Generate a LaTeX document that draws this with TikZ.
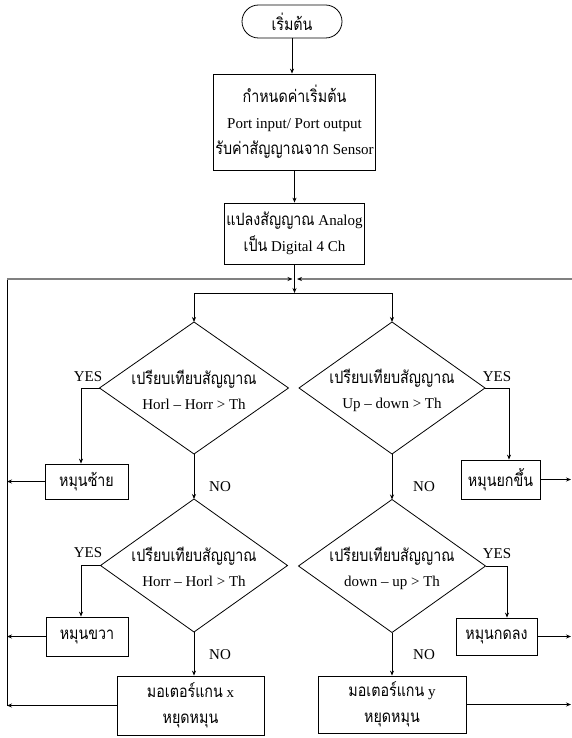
\documentclass[tikz,border=0pt]{standalone}
\usepackage{fontspec}
\setmainfont{Liberation Serif}
\newfontfamily\thfont[Script=Thai,FakeStretch=0.84]{Loma}
\usetikzlibrary{shapes.geometric,arrows.meta}
\newcommand\thai[1]{{\thfont\fontsize{17}{26}\selectfont #1}}
\begin{document}
\begin{tikzpicture}[x=1pt,y=-1pt,
  line/.style={draw, line width=0.8pt},
  arr/.style={draw, line width=0.8pt, -{Stealth[length=5pt,width=4pt]}},
  garr/.style={draw, line width=1.6pt, gray, -{Stealth[length=5pt,width=4pt,black]}},
  box/.style={draw, line width=0.8pt, align=center, inner sep=2pt, font=\fontsize{15}{26}\selectfont},
  dia/.style={draw, diamond, line width=0.8pt, inner sep=0pt, outer sep=0pt},
  lbl/.style={align=center, inner sep=1pt, font=\fontsize{15}{25}\selectfont}]
\useasboundingbox (0,0) rectangle (572,738);
% top nodes
\node[box, rounded corners=16.5pt, minimum width=100pt, minimum height=33pt] (start) at (292,21.5) {\thai{เริ่มต้น}};
\node[box, minimum width=159pt, minimum height=96pt] (init) at (294.5,122) {\thai{กำหนดค่าเริ่มต้น}\\Port input/ Port output\\\thai{รับค่าสัญญาณจาก} Sensor};
\node[box, minimum width=137pt, minimum height=61pt] (conv) at (294.5,233.5) {\thai{แปลงสัญญาณ} Analog\\\thai{เป็น} Digital 4 Ch};
% diamonds
\node[dia, minimum width=189pt, minimum height=132pt] (d1) at (194,388) {};
\node[dia, minimum width=186pt, minimum height=132pt] (d2) at (392,388) {};
\node[dia, minimum width=187pt, minimum height=133pt] (d3) at (194,565.5) {};
\node[dia, minimum width=187pt, minimum height=133pt] (d4) at (392,566) {};
\node[lbl] (t1) at (194,390) {\thai{เปรียบเทียบสัญญาณ}\\Horl -- Horr > Th};
\node[lbl] (t2) at (392,390) {\thai{เปรียบเทียบสัญญาณ}\\Up -- down > Th};
\node[lbl] (t3) at (194,567) {\thai{เปรียบเทียบสัญญาณ}\\Horr -- Horl > Th};
\node[lbl] (t4) at (392,568) {\thai{เปรียบเทียบสัญญาณ}\\down -- up > Th};
% action boxes
\node[box, minimum width=83pt, minimum height=35pt] (bl1) at (86.5,481.5) {\thai{หมุนซ้าย}};
\node[box, minimum width=82pt, minimum height=39pt] (bl2) at (87,636.5) {\thai{หมุนขวา}};
\node[box, minimum width=147pt, minimum height=59pt] (bx) at (190.5,705.5) {\thai{มอเตอร์แกน} x\\\thai{หยุดหมุน}};
\node[box, minimum width=79pt, minimum height=39pt] (br1) at (500.5,479.5) {\thai{หมุนยกขึ้น}};
\node[box, minimum width=81pt, minimum height=37pt] (br2) at (496.5,636.5) {\thai{หมุนกดลง}};
\node[box, minimum width=148pt, minimum height=57pt] (by) at (392,704.5) {\thai{มอเตอร์แกน} y\\\thai{หยุดหมุน}};
% labels
\node[lbl] (yes1) at (88,377) {YES};
\node[lbl] (yes2) at (88,553) {YES};
\node[lbl] (yes3) at (497,377) {YES};
\node[lbl] (yes4) at (497,554) {YES};
\node[lbl] (no1) at (220,487) {NO};
\node[lbl] (no2) at (220,655) {NO};
\node[lbl] (no3) at (424,487) {NO};
\node[lbl] (no4) at (424,655) {NO};
% coordinates
\coordinate (lt) at (7,279);
\coordinate (lb) at (7,706);
\coordinate (tl) at (292.5,279);
\coordinate (rt) at (572,279);
\coordinate (tr) at (297,279);
\coordinate (rx) at (571,279);
\coordinate (jc) at (294.5,293);
\coordinate (jl) at (194,293);
\coordinate (jr) at (392,293);
\coordinate (y1) at (81,388);
\coordinate (y2) at (81,565.5);
\coordinate (y3) at (509,388);
\coordinate (y4) at (507,566);
% connectors
\draw[arr] (start.south) -- (start.south |- init.north);
\draw[arr] (init) -- (conv);
\draw[arr] (conv.south) -- (jc);
\draw[line] (jl) -- (jr);
\draw[arr] (jl) -- (d1.north);
\draw[arr] (jr) -- (d2.north);
\draw[line] (d1.west) -- (y1);
\draw[arr] (y1) -- (y1 |- bl1.north);
\draw[arr] (bl1.west) -- (bl1.west -| lt);
\draw[arr] (d1.south) -- (d3.north);
\draw[line] (d3.west) -- (y2);
\draw[arr] (y2) -- (y2 |- bl2.north);
\draw[arr] (bl2.west) -- (bl2.west -| lt);
\draw[arr] (d3.south) -- (d3.south |- bx.north);
\draw[arr] (bx.west) -- (bx.west -| lt);
\draw[line] (lb) -- (lt);
\draw[garr] (lt) -- (tl);
\draw[garr] (rt) -- (tr);
\draw[line] (d2.east) -- (y3);
\draw[arr] (y3) -- (y3 |- br1.north);
\draw[arr] (br1.east) -- (br1.east -| rx);
\draw[arr] (d2.south) -- (d4.north);
\draw[line] (d4.east) -- (y4);
\draw[arr] (y4) -- (y4 |- br2.north);
\draw[arr] (br2.east) -- (br2.east -| rx);
\draw[arr] (d4.south) -- (d4.south |- by.north);
\draw[arr] (by.east) -- (by.east -| rx);
\end{tikzpicture}
\end{document}
